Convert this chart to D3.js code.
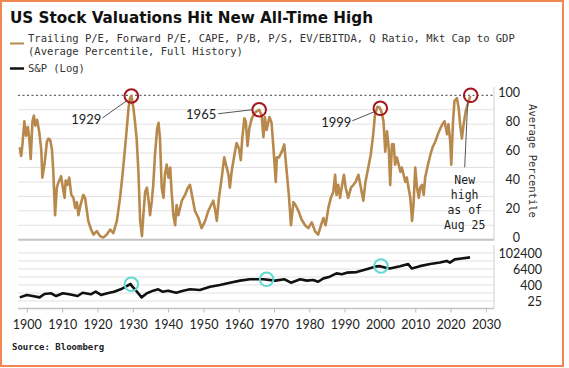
<!DOCTYPE html>
<html>
<head>
<meta charset="utf-8">
<script src="https://cdn.jsdelivr.net/npm/d3@7"></script>
<style>
  body { margin: 0; background: #fff; }
  svg { display: block; }
</style>
</head>
<body>
<svg id="chart" width="569" height="368"></svg>
<script>
// Average percentile of 8 valuation measures
const valYears = [
  1898.0, 1898.4, 1898.8, 1899.3, 1899.8, 1900.3, 1900.7, 1901.1, 1901.6, 1902.0,
  1902.4, 1902.9, 1903.5, 1904.1, 1904.4, 1905.0, 1905.7, 1906.1, 1906.6, 1907.1,
  1907.5, 1908.0, 1908.5, 1909.0, 1909.7, 1910.2, 1910.7, 1911.0, 1911.5, 1912.0,
  1912.6, 1913.2, 1913.7, 1914.2, 1914.6, 1915.2, 1916.0, 1916.5, 1917.0, 1917.4,
  1918.2, 1918.9, 1919.8, 1920.8, 1921.7, 1922.6, 1923.6, 1924.5, 1925.5, 1926.4,
  1927.1, 1927.8, 1928.3, 1928.8, 1929.2, 1929.6, 1930.2, 1930.7, 1931.1, 1931.6,
  1932.1, 1932.6, 1933.0, 1933.5, 1934.0, 1934.4, 1934.9, 1935.4, 1935.8, 1936.3,
  1936.9, 1937.3, 1937.7, 1938.2, 1938.7, 1939.1, 1939.6, 1940.1, 1940.6, 1941.0,
  1941.5, 1942.0, 1942.4, 1942.9, 1943.9, 1944.8, 1945.6, 1946.2, 1946.9, 1947.6,
  1948.6, 1949.5, 1950.5, 1951.4, 1952.2, 1952.8, 1953.3, 1953.8, 1954.4, 1955.2,
  1955.9, 1956.4, 1957.1, 1957.5, 1958.0, 1958.8, 1959.4, 1960.1, 1960.6, 1961.0,
  1961.6, 1962.0, 1962.5, 1963.0, 1963.7, 1964.6, 1965.2, 1965.8, 1966.5, 1967.0,
  1967.4, 1967.9, 1968.7, 1969.3, 1969.8, 1970.5, 1970.8, 1971.4, 1972.2, 1972.9,
  1973.6, 1974.2, 1974.8, 1975.5, 1976.1, 1976.9, 1977.8, 1978.8, 1979.7, 1980.7,
  1981.6, 1982.5, 1983.3, 1984.0, 1984.6, 1985.4, 1986.1, 1986.8, 1987.3, 1987.7,
  1988.2, 1988.7, 1989.3, 1989.8, 1990.3, 1991.0, 1991.8, 1992.5, 1993.1, 1993.9,
  1994.6, 1995.3, 1995.9, 1996.7, 1997.4, 1998.1, 1998.6, 1999.3, 1999.9, 2000.4,
  2001.0, 2001.5, 2002.0, 2002.5, 2002.9, 2003.4, 2003.9, 2004.3, 2004.8, 2005.3,
  2005.8, 2006.2, 2006.7, 2007.2, 2007.6, 2008.1, 2008.6, 2009.1, 2009.5, 2010.0,
  2010.5, 2011.0, 2011.4, 2011.9, 2012.4, 2012.8, 2013.6, 2014.3, 2014.9, 2015.7,
  2016.4, 2017.1, 2017.7, 2018.3, 2019.0, 2019.4, 2019.9, 2020.2, 2020.7, 2021.1,
  2021.8, 2022.3, 2022.7, 2023.2, 2023.7, 2024.3, 2025.1, 2025.6
];
const valPct = [
  64, 58, 67, 82, 72, 78, 70, 56, 82, 86,
  79, 83, 75, 62, 43, 52, 68, 70, 69, 63,
  47, 17, 36, 40, 44, 36, 29, 41, 38, 43,
  31, 29, 22, 26, 17, 24, 31, 29, 20, 13,
  7, 3.5, 6, 2.3, 1.6, 3.5, 7, 4.6, 13, 29,
  45, 63, 77, 91, 98, 99.5, 91, 80, 70, 47,
  13, 2.5, 17, 33, 36, 29, 17, 27, 38, 59,
  77, 81, 70, 36, 29, 45, 52, 43, 50, 33,
  17, 10, 24, 17, 27, 31, 36, 38, 29, 20,
  15, 8, 13, 20, 24, 27, 21, 13, 29, 43,
  57, 52, 45, 36, 47, 59, 67, 63, 55, 70,
  84, 82, 65, 77, 84, 88, 89, 90, 86, 71,
  85, 76, 85, 81, 65, 40, 57, 57, 61, 66,
  47, 31, 10, 26, 24, 20, 14, 10, 8, 12,
  6, 3.5, 10, 15, 10, 22, 29, 33, 45, 31,
  38, 29, 38, 45, 36, 29, 36, 38, 40, 45,
  36, 27, 40, 50, 59, 73, 87, 92, 91.5, 89,
  82, 61, 75, 63, 38, 66, 66, 52, 57, 52,
  47, 50, 45, 40, 43, 36, 29, 13, 24, 50,
  36, 29, 36, 38, 31, 43, 52, 59, 64, 68,
  73, 77, 80, 82, 73, 80, 68, 52, 82, 96,
  98, 91, 80, 70, 80, 89, 96, 99.5
];

// S&P level (log panel)
const spYears = [
  1898.0, 1900.0, 1901.6, 1903.6, 1905.0, 1906.9, 1908.3, 1910.2, 1912.0, 1914.4,
  1915.8, 1918.1, 1919.5, 1921.0, 1922.8, 1924.7, 1926.6, 1928.0, 1929.4, 1929.9,
  1930.8, 1932.5, 1934.0, 1935.8, 1937.2, 1938.4, 1940.0, 1942.3, 1944.3, 1946.2,
  1949.0, 1951.9, 1954.7, 1957.5, 1960.4, 1963.2, 1967.0, 1970.3, 1973.0, 1974.8,
  1977.4, 1979.3, 1981.1, 1982.5, 1984.0, 1985.8, 1987.7, 1989.2, 1990.6, 1993.4,
  1996.2, 1998.6, 2000.0, 2001.4, 2002.8, 2005.7, 2008.0, 2009.0, 2011.3, 2014.2,
  2017.0, 2018.9, 2019.8, 2021.2, 2023.1, 2025.5
];
const spLevel = [
  47, 71, 59, 47, 84, 95, 59, 95, 80, 59,
  105, 80, 126, 71, 95, 126, 190, 300, 476, 300,
  168, 47, 95, 150, 190, 126, 150, 105, 150, 190,
  168, 300, 400, 600, 850, 1070, 1070, 850, 1070, 600,
  1070, 850, 950, 700, 1260, 1700, 3000, 2600, 3400, 3750,
  6200, 9600, 10500, 8400, 7000, 10500, 15000, 7000, 10500, 15000,
  19500, 26000, 19500, 34000, 40000, 48000
];

const xTicks = [1900, 1910, 1920, 1930, 1940, 1950, 1960, 1970, 1980, 1990, 2000, 2010, 2020, 2030];
const pctTicks = [0, 20, 40, 60, 80, 100];
const pctGrid = [10, 20, 30, 40, 50, 60, 70, 80, 90];
const logTicks = [25, 400, 6400, 102400];
const logGrid = [25, 100, 400, 1600, 6400, 25600, 102400];

// highlighted peaks
const peakLabels = ['1929', '1965', '1999', ''];
const peakYears = [1929.6, 1965.8, 2000.1, 2025.7];
const peakPct = [99.5, 90, 91, 100];
const spMarkYears = [1929.6, 1967.9, 2000.3];
const spMarkLevel = [452, 1074, 10760];
const newHighLines = ['New', 'high', 'as of', 'Aug 25'];

const svg = d3.select('#chart');
const W = 569, H = 368;
const left = 18, right = 494;
const tan = '#b8894d';
const mono = "'DejaVu Sans Mono', monospace";
const sans = "Lato, 'Open Sans', sans-serif";

svg.append('rect').attr('width', W).attr('height', H).attr('fill', '#fff');

const x = d3.scaleLinear().domain([1897.5, 2032.3]).range([left, right]);
const yTop = d3.scaleLinear().domain([0, 100]).range([239.7, 95.3]);
const yBot = d3.scaleLog().domain([6.25, 409600]).range([309, 245]);

// title + legend
svg.append('text')
  .attr('x', 10).attr('y', 23)
  .attr('font-family', "'DejaVu Sans', sans-serif")
  .attr('font-weight', 'bold')
  .attr('font-size', 16)
  .attr('fill', '#111')
  .attr('textLength', 363)
  .attr('lengthAdjust', 'spacingAndGlyphs')
  .text('US Stock Valuations Hit New All-Time High');

const legend = svg.append('g').attr('font-family', mono).attr('font-size', 10.5).attr('fill', '#333');
legend.append('line').attr('x1', 10).attr('x2', 24).attr('y1', 43.5).attr('y2', 43.5)
  .attr('stroke', tan).attr('stroke-width', 2);
legend.append('text').attr('x', 28).attr('y', 41.5)
  .text('Trailing P/E, Forward P/E, CAPE, P/B, P/S, EV/EBITDA, Q Ratio, Mkt Cap to GDP');
legend.append('text').attr('x', 28).attr('y', 54.5)
  .text('(Average Percentile, Full History)');
legend.append('line').attr('x1', 10).attr('x2', 24).attr('y1', 68.5).attr('y2', 68.5)
  .attr('stroke', '#111').attr('stroke-width', 2.5);
legend.append('text').attr('x', 28).attr('y', 72).text('S&P (Log)');

// top panel grid
const gTop = svg.append('g');
gTop.selectAll('line.grid')
  .data(pctGrid)
  .join('line')
    .attr('class', 'grid')
    .attr('x1', left).attr('x2', right)
    .attr('y1', d => yTop(d)).attr('y2', d => yTop(d))
    .attr('stroke', '#e1e1e1').attr('stroke-width', 1);

gTop.append('line')
  .attr('x1', left).attr('x2', right)
  .attr('y1', yTop(100)).attr('y2', yTop(100))
  .attr('stroke', '#666').attr('stroke-width', 1.2)
  .attr('stroke-dasharray', '2,2.5');

gTop.append('line')
  .attr('x1', left).attr('x2', right)
  .attr('y1', yTop(0)).attr('y2', yTop(0))
  .attr('stroke', '#c4c4c4').attr('stroke-width', 2);

gTop.append('line')
  .attr('x1', right).attr('x2', right)
  .attr('y1', 87).attr('y2', yTop(0))
  .attr('stroke', '#cfcfcf').attr('stroke-width', 1);

const axTop = gTop.append('g')
  .attr('transform', `translate(${right},0)`)
  .call(d3.axisRight(yTop).tickValues(pctTicks).tickSize(0));
axTop.select('.domain').remove();
axTop.selectAll('text')
  .attr('x', 26).attr('dy', '0.32em').attr('y', -2.5)
  .attr('text-anchor', 'end')
  .attr('font-family', sans).attr('font-size', 12.5).attr('fill', '#222');

svg.append('text')
  .attr('transform', 'translate(529,161) rotate(90)')
  .attr('text-anchor', 'middle')
  .attr('font-family', mono).attr('font-size', 10.5).attr('fill', '#333')
  .text('Average Percentile');

// valuation line
const valData = valYears.map((yr, i) => [yr, valPct[i]]);
gTop.append('path')
  .datum(valData)
  .attr('fill', 'none')
  .attr('stroke', tan)
  .attr('stroke-width', 2.6)
  .attr('stroke-linejoin', 'round')
  .attr('d', d3.line().x(d => x(d[0])).y(d => yTop(d[1])));

// peak annotations (offsets in px from circle centre)
const annot = [
  { dx: -45, dy: 23, l: [-29, 22, -5, 5] },
  { dx: -58, dy: 5, l: [-41, 4, -7, 0] },
  { dx: -44, dy: 14, l: [-28, 12.5, -6, 3.5] }
];
peakYears.forEach((yr, i) => {
  const cx = x(yr), cy = yTop(peakPct[i]);
  if (annot[i]) {
    const a = annot[i];
    gTop.append('line')
      .attr('x1', cx + a.l[0]).attr('y1', cy + a.l[1])
      .attr('x2', cx + a.l[2]).attr('y2', cy + a.l[3])
      .attr('stroke', '#555').attr('stroke-width', 1);
    gTop.append('text')
      .attr('x', cx + a.dx).attr('y', cy + a.dy)
      .attr('dy', '0.35em')
      .attr('text-anchor', 'middle')
      .attr('font-family', sans).attr('font-size', 13).attr('fill', '#222')
      .text(peakLabels[i]);
  }
  gTop.append('circle')
    .attr('cx', cx).attr('cy', cy).attr('r', 6.8)
    .attr('fill', 'none').attr('stroke', '#a3161b').attr('stroke-width', 2);
});

// new high note
const last = peakYears.length - 1;
const nhx = x(peakYears[last]), nhy = yTop(peakPct[last]);
gTop.append('line')
  .attr('x1', nhx - 3).attr('y1', nhy + 7)
  .attr('x2', nhx - 6).attr('y2', nhy + 72)
  .attr('stroke', '#555').attr('stroke-width', 1);
gTop.append('g')
  .attr('font-family', mono).attr('font-size', 11.5).attr('fill', '#222')
  .attr('text-anchor', 'middle')
  .selectAll('text')
  .data(newHighLines)
  .join('text')
    .attr('x', nhx - 6)
    .attr('y', (d, i) => nhy + 89 + i * 15)
    .text(d => d);

// bottom panel
const gBot = svg.append('g');
gBot.selectAll('line.grid')
  .data(logGrid)
  .join('line')
    .attr('class', 'grid')
    .attr('x1', left).attr('x2', right)
    .attr('y1', d => yBot(d)).attr('y2', d => yBot(d))
    .attr('stroke', '#e1e1e1').attr('stroke-width', 1);

gBot.append('line')
  .attr('x1', right).attr('x2', right)
  .attr('y1', 245).attr('y2', 308.5)
  .attr('stroke', '#cfcfcf').attr('stroke-width', 1);

const axBotR = gBot.append('g')
  .attr('transform', `translate(${right},0)`)
  .call(d3.axisRight(yBot).tickValues(logTicks).tickSize(0).tickFormat(d3.format('d')));
axBotR.select('.domain').remove();
axBotR.selectAll('text')
  .attr('x', 48).attr('dy', '0.32em')
  .attr('text-anchor', 'end')
  .attr('font-family', sans).attr('font-size', 12.5).attr('fill', '#222');

const spData = spYears.map((yr, i) => [yr, spLevel[i]]);
gBot.append('path')
  .datum(spData)
  .attr('fill', 'none')
  .attr('stroke', '#111')
  .attr('stroke-width', 2.6)
  .attr('stroke-linejoin', 'round')
  .attr('d', d3.line().x(d => x(d[0])).y(d => yBot(d[1])));

gBot.selectAll('circle')
  .data(spMarkYears)
  .join('circle')
    .attr('cx', d => x(d))
    .attr('cy', (d, i) => yBot(spMarkLevel[i]))
    .attr('r', 6.8)
    .attr('fill', 'none')
    .attr('stroke', '#5fd9d2')
    .attr('stroke-width', 2);

// x axis
const axX = svg.append('g')
  .attr('transform', 'translate(0,308.5)')
  .call(d3.axisBottom(x).tickValues(xTicks).tickSize(4).tickPadding(8).tickFormat(d3.format('d')));
axX.select('.domain')
  .attr('d', `M${left},0H${right}`)
  .attr('stroke', '#c4c4c4').attr('stroke-width', 1.5);
axX.selectAll('.tick line').attr('stroke', '#bbb');
axX.selectAll('text')
  .attr('font-family', sans).attr('font-size', 12.5).attr('fill', '#222');

svg.append('text')
  .attr('x', 12).attr('y', 349.5)
  .attr('font-family', mono).attr('font-size', 9).attr('font-weight', 'bold')
  .attr('fill', '#222')
  .text('Source: Bloomberg');

// frame
svg.append('rect')
  .attr('x', 1).attr('y', 1).attr('width', 562).attr('height', 365)
  .attr('fill', 'none').attr('stroke', '#f08650').attr('stroke-width', 2);
</script>
</body>
</html>
